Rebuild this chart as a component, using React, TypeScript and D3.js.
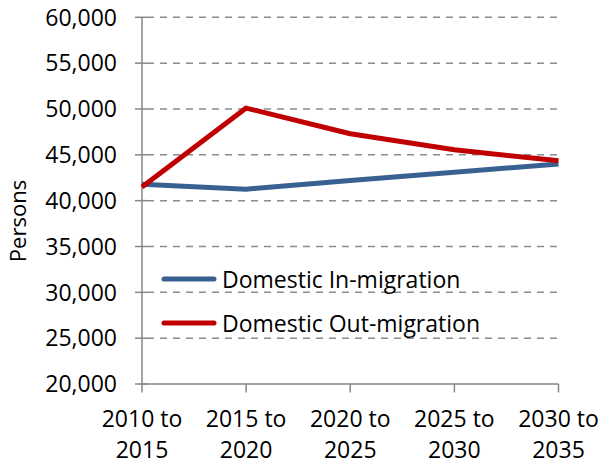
import React from "react";
import * as d3 from "d3";

const categories = [
  ["2010 to", "2015"],
  ["2015 to", "2020"],
  ["2020 to", "2025"],
  ["2025 to", "2030"],
  ["2030 to", "2035"],
];
const inMigration = [41800, 41250, 42200, 43100, 44000];
const outMigration = [41500, 50100, 47300, 45550, 44350];
const yTicks = [20000, 25000, 30000, 35000, 40000, 45000, 50000, 55000, 60000];
const seriesNames = ["Domestic In-migration", "Domestic Out-migration"];
const seriesColors = ["#386192", "#C00000"];

const W = 602;
const H = 462;
const FONT = "'Open Sans', sans-serif";

export default function App() {
  const keys = categories.map((c) => c.join(" "));
  const x = d3.scalePoint<string>().domain(keys).range([142, 558.5]);
  const y = d3.scaleLinear().domain([20000, 60000]).range([384, 17.3]);
  const fmt = d3.format(",");
  const line = d3
    .line<number>()
    .x((_, i) => x(keys[i]) as number)
    .y((d) => y(d));
  const series = [inMigration, outMigration];

  return (
    <svg
      width={W}
      height={H}
      style={{ position: "absolute", left: 0, top: 0, background: "#fff" }}
      fontFamily={FONT}
    >
      {/* gridlines */}
      {yTicks
        .filter((t) => t > 20000)
        .map((t) => (
          <line
            key={"g" + t}
            x1={147}
            x2={558.5}
            y1={y(t)}
            y2={y(t)}
            stroke="#8c8c8c"
            strokeWidth={1.5}
            strokeDasharray="7,6"
          />
        ))}
      {/* axes */}
      <line x1={142} x2={142} y1={y(60000)} y2={y(20000)} stroke="#868686" strokeWidth={1.5} />
      <line x1={142} x2={558.5} y1={y(20000)} y2={y(20000)} stroke="#868686" strokeWidth={1.5} />
      {yTicks.map((t) => (
        <g key={"yt" + t}>
          <line x1={135} x2={147} y1={y(t)} y2={y(t)} stroke="#868686" strokeWidth={1.5} />
          <text x={117} y={y(t) + 8.2} textAnchor="end" fontSize={23} fill="#000">
            {fmt(t)}
          </text>
        </g>
      ))}
      {keys.map((k, i) => (
        <g key={"xt" + k}>
          <line x1={x(k)} x2={x(k)} y1={y(20000)} y2={y(20000) + 8.5} stroke="#868686" strokeWidth={1.5} />
          <text x={x(k)} y={427} textAnchor="middle" fontSize={23} fill="#000">
            {categories[i][0]}
          </text>
          <text x={x(k)} y={458} textAnchor="middle" fontSize={23} fill="#000">
            {categories[i][1]}
          </text>
        </g>
      ))}
      {/* y axis title */}
      <text
        transform={`translate(26,221) rotate(-90)`}
        textAnchor="middle"
        fontSize={22}
        fill="#000"
      >
        Persons
      </text>
      {/* series */}
      {series.map((s, i) => (
        <path
          key={"s" + i}
          d={line(s) as string}
          fill="none"
          stroke={seriesColors[i]}
          strokeWidth={5}
          strokeLinejoin="round"
        />
      ))}
      {/* legend */}
      {seriesNames.map((n, i) => (
        <g key={"l" + i}>
          <line
            x1={164}
            x2={214}
            y1={279 + i * 44}
            y2={279 + i * 44}
            stroke={seriesColors[i]}
            strokeWidth={5}
            strokeLinecap="round"
          />
          <text x={222} y={287.5 + i * 44} fontSize={23} fill="#000">
            {n}
          </text>
        </g>
      ))}
    </svg>
  );
}
